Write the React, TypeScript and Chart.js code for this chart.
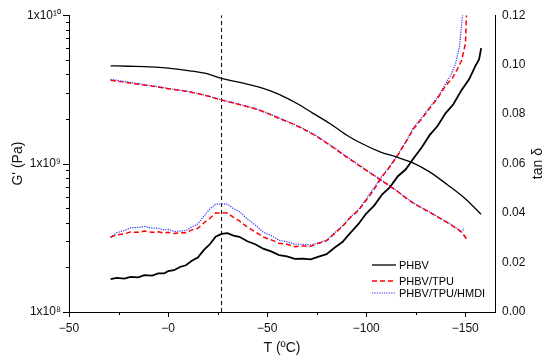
import React, { useEffect, useRef } from "react";
import { Chart, registerables } from "chart.js";
Chart.register(...registerables);

// ---------- axis ticks / labels ----------
const xTickValues = [-50, 0, 50, 100, 150];
const xTickLabels = ["\u221250", "\u22120", "\u221250", "\u2212100", "\u2212150"];
const xMinorTicks = [-25, 25, 75, 125];
const leftMajorLabels: Record<string, string> = { "8": "1x10\u2078", "9": "1x10\u2079", "10": "1x10\u00b9\u2070" };
const tanTickStep = 0.02;
const glassTransition = 27;

const seriesNames = ["PHBV", "PHBV/TPU", "PHBV/TPU/HMDI"];

// ---------- storage modulus G' (Pa) ----------
const gT_PHBV = [-29, -20, -9, 0, 11, 20, 27, 35, 46, 56, 66, 73, 82, 90, 98, 107, 115, 123, 132, 141, 150, 158];
const g_PHBV = [4.56e9, 4.53e9, 4.49e9, 4.4e9, 4.22e9, 4.02e9, 3.75e9, 3.55e9, 3.27e9, 2.93e9, 2.5e9, 2.19e9, 1.85e9, 1.56e9, 1.36e9, 1.2e9, 1.11e9, 1.02e9, 8.8e8, 7.2e8, 5.8e8, 4.55e8];

const gT_TPU = [-29, -20, -9, 0, 11, 20, 27, 35, 46, 56, 66, 73, 82, 90, 98, 107, 115, 123, 132, 141, 145, 148.5, 150.6];
const g_TPU = [3.65e9, 3.5e9, 3.34e9, 3.2e9, 3.04e9, 2.85e9, 2.68e9, 2.52e9, 2.29e9, 2.02e9, 1.77e9, 1.58e9, 1.32e9, 1.11e9, 9.4e8, 7.8e8, 6.6e8, 5.5e8, 4.7e8, 4.0e8, 3.7e8, 3.4e8, 3.1e8];

const gT_HMDI = [-29, -20, -9, 0, 11, 20, 27, 35, 46, 56, 66, 73, 82, 90, 98, 107, 115, 123, 132, 141, 145, 148.4, 149.2];
const g_HMDI = [3.7e9, 3.54e9, 3.36e9, 3.21e9, 3.05e9, 2.86e9, 2.69e9, 2.53e9, 2.3e9, 2.03e9, 1.78e9, 1.59e9, 1.33e9, 1.12e9, 9.45e8, 7.85e8, 6.62e8, 5.52e8, 4.72e8, 4.02e8, 3.72e8, 3.46e8, 3.7e8];

// ---------- loss factor tan delta ----------
const tanT_PHBV = [-29, -26, -22, -19, -15, -12, -8, -5, -2, 0, 3, 6, 9, 12, 15, 18, 21, 24, 27, 30, 33, 36, 40, 44, 48, 52, 56, 60, 64, 68, 72, 76, 80, 84, 88, 92, 96, 100, 104, 108, 112, 116, 120, 124, 128, 132, 136, 140, 144, 148, 152, 155, 157, 158];
const tan_PHBV = [0.0133, 0.0138, 0.0135, 0.0142, 0.0140, 0.0149, 0.0147, 0.0156, 0.0156, 0.0165, 0.0169, 0.0182, 0.0189, 0.0207, 0.0220, 0.0250, 0.0273, 0.0304, 0.0316, 0.0319, 0.0309, 0.0304, 0.0286, 0.0274, 0.0256, 0.0245, 0.0230, 0.0225, 0.0215, 0.0216, 0.0213, 0.0224, 0.0234, 0.0260, 0.0283, 0.0320, 0.0355, 0.0398, 0.0430, 0.0475, 0.0505, 0.0549, 0.0577, 0.0623, 0.0665, 0.0715, 0.0752, 0.0803, 0.0840, 0.0896, 0.0942, 0.0993, 0.1022, 0.1067];

const tanT_TPU = [-29, -26, -22, -19, -15, -12, -8, -5, -2, 0, 3, 6, 9, 12, 15, 18, 21, 24, 27, 30, 33, 36, 40, 44, 48, 52, 56, 60, 64, 68, 72, 76, 80, 84, 88, 92, 96, 100, 104, 108, 112, 116, 120, 124, 128, 132, 136, 140, 143.6, 146, 148.2, 150.1, 150.6];
const tan_TPU = [0.0302, 0.0312, 0.0316, 0.0323, 0.0322, 0.0327, 0.0322, 0.0324, 0.0319, 0.0322, 0.0317, 0.0320, 0.0320, 0.0332, 0.0338, 0.0360, 0.0378, 0.0400, 0.0401, 0.0400, 0.0383, 0.0368, 0.0343, 0.0324, 0.0303, 0.0292, 0.0278, 0.0274, 0.0264, 0.0267, 0.0266, 0.0278, 0.0288, 0.0317, 0.0346, 0.0382, 0.0410, 0.0452, 0.0496, 0.0547, 0.0588, 0.0634, 0.0688, 0.0742, 0.0780, 0.0824, 0.0863, 0.0914, 0.0947, 0.0982, 0.1018, 0.1087, 0.1200];

const tanT_HMDI = [-29, -26, -22, -19, -15, -12, -8, -5, -2, 0, 3, 6, 9, 12, 15, 18, 21, 24, 27, 30, 33, 36, 40, 44, 48, 52, 56, 60, 64, 68, 72, 76, 80, 84, 88, 92, 96, 100, 104, 108, 112, 116, 120, 124, 128, 132, 136, 140, 143, 145, 147, 148.6];
const tan_HMDI = [0.0302, 0.0320, 0.0330, 0.0340, 0.0342, 0.0346, 0.0339, 0.0339, 0.0332, 0.0334, 0.0326, 0.0327, 0.0329, 0.0344, 0.0356, 0.0387, 0.0416, 0.0436, 0.0436, 0.0436, 0.0418, 0.0406, 0.0376, 0.0352, 0.0323, 0.0309, 0.0290, 0.0284, 0.0274, 0.0274, 0.0271, 0.0280, 0.0291, 0.0320, 0.0348, 0.0385, 0.0413, 0.0457, 0.0503, 0.0550, 0.0590, 0.0637, 0.0688, 0.0747, 0.0786, 0.0828, 0.0868, 0.0922, 0.0963, 0.1002, 0.1068, 0.1200];

const pts = (xs: number[], ys: number[]) => xs.map((x, i) => ({ x, y: ys[i] }));

const FONT = "'Liberation Sans', Arial, sans-serif";

const COLORS = ["#000000", "#ff0000", "#2a2aff"];
const DASHES: number[][] = [[], [5, 3], [1.2, 1.2]];
const WIDTHS = [1.3, 1.5, 1.2];

const decoPlugin = {
  id: "deco",
  afterDraw(chart: any) {
    const ctx = chart.ctx;
    const xs = chart.scales.x;
    const ys = chart.scales.y;
    const y1 = chart.scales.y1;
    const area = chart.chartArea;
    ctx.save();
    ctx.strokeStyle = "#000";
    ctx.lineWidth = 1;
    ctx.setLineDash([]);
    const drawX = (v: number, len: number) => {
      const px = Math.round(xs.getPixelForValue(v)) + 0.5;
      ctx.beginPath();
      ctx.moveTo(px, area.bottom);
      ctx.lineTo(px, area.bottom + len);
      ctx.stroke();
    };
    xTickValues.forEach((v) => drawX(v, 5));
    xMinorTicks.forEach((v) => drawX(v, 3));
    // x axis line extends a little left of the y axis
    ctx.beginPath();
    ctx.moveTo(area.left - 6, area.bottom + 0.5);
    ctx.lineTo(area.left, area.bottom + 0.5);
    ctx.stroke();
    for (let n = 8; n <= 10; n++) {
      for (let m = 1; m <= 9; m++) {
        if (n === 10 && m > 1) break;
        const v = m * Math.pow(10, n);
        const py = Math.round(ys.getPixelForValue(v)) + 0.5;
        const len = m === 1 ? 6 : 3;
        ctx.beginPath();
        ctx.moveTo(area.left, py);
        ctx.lineTo(area.left - len, py);
        ctx.stroke();
      }
    }
    ctx.fillStyle = "#111";
    ctx.font = "14px " + FONT;
    ctx.textAlign = "center";
    ctx.textBaseline = "middle";
    ctx.translate(538, (y1.top + y1.bottom) / 2);
    ctx.rotate(-Math.PI / 2);
    ctx.fillText("tan \u03b4", 0, 0);
    ctx.restore();

    ctx.save();
    const legendY = [265, 281, 293];
    ctx.font = "11px " + FONT;
    ctx.textBaseline = "middle";
    ctx.textAlign = "left";
    seriesNames.forEach((name, i) => {
      ctx.strokeStyle = COLORS[i];
      ctx.lineWidth = WIDTHS[i];
      ctx.setLineDash(DASHES[i]);
      ctx.beginPath();
      ctx.moveTo(372, legendY[i]);
      ctx.lineTo(396, legendY[i]);
      ctx.stroke();
      ctx.fillStyle = "#000";
      ctx.fillText(name, 399, legendY[i] + 0.5);
    });
    ctx.restore();
  },
};

export default function App() {
  const ref = useRef<HTMLCanvasElement | null>(null);
  useEffect(() => {
    document.body.style.margin = "0";
    const mk = (data: any[], i: number, axis: string, w?: number, smooth = true) => ({
      data,
      yAxisID: axis,
      borderColor: COLORS[i],
      borderDash: DASHES[i],
      borderWidth: w ?? WIDTHS[i],
      pointRadius: 0,
      fill: false,
      cubicInterpolationMode: smooth ? "monotone" : "default",
      tension: smooth ? 0.4 : 0,
    });
    const chart = new Chart(ref.current as HTMLCanvasElement, {
      type: "line",
      data: {
        datasets: [
          mk(pts(gT_PHBV, g_PHBV), 0, "y"),
          mk(pts(gT_TPU, g_TPU), 1, "y"),
          mk(pts(gT_HMDI, g_HMDI), 2, "y"),
          mk(pts(tanT_PHBV, tan_PHBV), 0, "y1", 1.8, false),
          mk(pts(tanT_TPU, tan_TPU), 1, "y1", 1.5, false),
          mk(pts(tanT_HMDI, tan_HMDI), 2, "y1", 1.2, false),
          {
            data: [
              { x: glassTransition, y: 0 },
              { x: glassTransition, y: 0.12 },
            ],
            yAxisID: "y1",
            borderColor: "#000",
            borderDash: [4, 3],
            borderWidth: 1,
            pointRadius: 0,
            fill: false,
          },
        ] as any,
      },
      options: {
        responsive: false,
        animation: false,
        layout: { padding: { top: 15, left: 0, right: 0, bottom: 0 } },
        plugins: { legend: { display: false }, tooltip: { enabled: false } },
        scales: {
          x: {
            type: "linear",
            min: -50,
            max: 165,
            afterFit: (s: any) => {
              s.height = 51;
            },
            afterBuildTicks: (s: any) => {
              s.ticks = xTickValues.map((v) => ({ value: v }));
            },
            ticks: {
              padding: 9,
              color: "#111",
              font: { size: 12, family: FONT },
              maxRotation: 0,
              autoSkip: false,
              callback: (v: any) => {
                const i = xTickValues.indexOf(Number(v));
                return i >= 0 ? xTickLabels[i] : "";
              },
            },
            grid: { display: false, drawTicks: false },
            border: { display: true, color: "#000", width: 1 },
            title: {
              display: true,
              text: "T (\u00baC)",
              color: "#111",
              font: { size: 14, family: FONT },
              padding: { top: 6, bottom: 6 },
            },
          },
          y: {
            type: "logarithmic",
            position: "left",
            min: 1e8,
            max: 1e10,
            afterFit: (s: any) => {
              s.width = 69;
            },
            afterBuildTicks: (s: any) => {
              s.ticks = [1e8, 1e9, 1e10].map((v) => ({ value: v }));
            },
            ticks: {
              padding: 8,
              color: "#111",
              autoSkip: false,
              font: { size: 12, family: FONT },
              callback: (v: any) => {
                const e = Math.round(Math.log10(Number(v)));
                return leftMajorLabels[String(e)] ?? "";
              },
            },
            grid: { display: false, drawTicks: false },
            border: { display: true, color: "#000", width: 1 },
            title: {
              display: true,
              text: "G' (Pa)",
              color: "#111",
              font: { size: 14, family: FONT },
              padding: { top: 10, bottom: 0 },
            },
          },
          y1: {
            type: "linear",
            position: "right",
            min: 0,
            max: 0.12,
            afterFit: (s: any) => {
              s.width = 55;
            },
            ticks: {
              stepSize: tanTickStep,
              padding: 7,
              color: "#111",
              font: { size: 12, family: FONT },
              callback: (v: any) => Number(v).toFixed(2),
            },
            grid: { display: false, drawTicks: false },
            border: { display: true, color: "#000", width: 1 },
          },
        },
      } as any,
      plugins: [decoPlugin],
    });
    return () => chart.destroy();
  }, []);
  return (
    <div style={{ position: "absolute", left: 0, top: 0, width: 550, height: 363, background: "#fff" }}>
      <canvas ref={ref} width={550} height={363} style={{ width: 550, height: 363 }} />
    </div>
  );
}
